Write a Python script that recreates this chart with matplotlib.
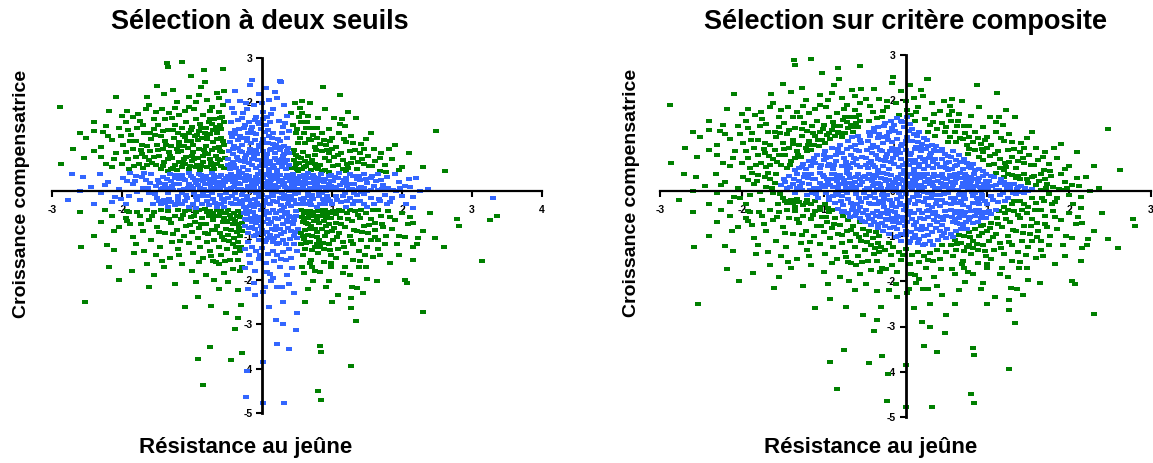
import numpy as np
import matplotlib
matplotlib.use("Agg")
import matplotlib.pyplot as plt

plt.rcParams['font.family'] = ['Liberation Sans', 'DejaVu Sans']
plt.rcParams['font.weight'] = 'bold'
plt.rcParams['axes.unicode_minus'] = False

# points (résistance au jeûne, croissance compensatrice), lus sur l'image
# bleu dans les deux graphiques
pts_bb = [
    (-0.46,0.5),(-0.4,0.58),(-0.33,0.46),(-0.27,0.55),(-0.2,0.48),(-0.14,0.6),(-0.08,0.52),(-0.02,0.45),(0.04,0.57),(0.1,0.49),(0.16,0.6),(0.22,0.47),(0.28,0.55),(0.34,0.5),(0.38,0.6),
    (-0.48,0.72),(-0.42,0.65),(-0.36,0.78),(-0.3,0.68),(-0.24,0.75),(-0.18,0.64),(-0.12,0.8),(-0.06,0.7),(0.0,0.62),(0.06,0.78),(0.12,0.68),(0.18,0.75),(0.24,0.63),(0.3,0.8),(0.36,0.7),
    (-0.47,0.9),(-0.41,0.84),(-0.35,0.97),(-0.29,0.88),(-0.23,0.82),(-0.17,0.95),(-0.11,0.86),(-0.05,0.99),(0.01,0.9),(0.07,0.83),(0.13,0.96),(0.19,0.87),(0.25,0.92),(0.31,0.84),(0.37,0.98),
    (-0.46,1.1),(-0.4,1.02),(-0.34,1.16),(-0.28,1.05),(-0.22,1.2),(-0.16,1.08),(-0.1,1.15),(-0.04,1.03),(0.02,1.18),(0.08,1.09),(0.14,1.2),(0.2,1.04),(0.26,1.12),(0.32,1.01),
    (-0.45,1.3),(-0.38,1.38),(-0.32,1.25),(-0.26,1.42),(-0.2,1.3),(-0.14,1.45),(-0.08,1.28),(-0.02,1.4),(0.04,1.33),(0.1,1.25),(0.16,1.3),(-0.43,1.22),
    (-0.18,1.55),(-0.1,1.6),(-0.04,1.52),(0.02,1.62),(0.06,1.48),(-0.25,1.5),
    (-0.44,0.62),(-0.37,0.53),(-0.31,0.91),(-0.25,0.66),(-0.21,1.13),(-0.15,0.73),(-0.09,0.93),(-0.03,0.57),(0.03,0.81),(0.09,0.61),(0.15,1.07),(0.21,0.71),(0.27,0.99),(0.33,0.63),(0.38,0.87),
    (-0.42,0.94),(-0.34,0.71),(-0.27,1.19),(-0.19,0.87),(-0.13,1.31),(-0.07,0.83),(0.0,1.09),(0.05,0.67),(0.11,0.93),(0.17,0.52),(0.23,1.17),(0.29,0.73),(0.35,0.91),(-0.48,0.58),(-0.39,1.29),(-0.33,1.41),(-0.06,1.55),(0.08,1.37),(-0.16,1.38),(0.19,0.97),
    (-1.52,0.12),(-1.48,0.25),(-1.45,0.05),(-1.42,0.32),(-1.38,0.15),(-1.35,-0.05),(-1.32,0.38),(-1.3,0.22),(-1.27,0.02),(-1.24,0.3),(-1.2,-0.1),(-1.18,0.15),(-1.15,0.36),(-1.12,0.05),(-1.1,0.25),(-1.07,-0.15),(-1.05,0.4),(-1.02,0.12),
    (-1.47,0.19),(-1.41,0.08),(-1.36,0.27),(-1.29,0.11),(-1.23,0.37),(-1.17,0.02),(-1.13,0.27),(-1.09,-0.08),(-1.04,0.17),(-1.01,0.35),(-1.33,0.06),(-1.26,0.17),(-1.19,0.28),(-1.14,-0.05),(-1.06,0.07),
    (-0.99,0.3),(-0.97,-0.05),(-0.95,0.18),(-0.93,-0.2),(-0.9,0.38),(-0.88,0.08),(-0.86,-0.28),(-0.84,0.22),(-0.82,-0.1),(-0.8,0.34),(-0.78,0.0),(-0.76,-0.32),(-0.74,0.16),(-0.72,0.4),(-0.7,-0.18),(-0.68,0.28),(-0.66,0.06),(-0.64,-0.36),(-0.62,0.2),(-0.6,-0.08),(-0.58,0.36),(-0.56,0.12),(-0.54,-0.25),(-0.52,0.3),(-0.5,0.02),
    (-0.98,0.08),(-0.94,-0.13),(-0.91,0.26),(-0.87,0.37),(-0.85,-0.03),(-0.81,0.15),(-0.79,-0.22),(-0.75,0.23),(-0.73,0.07),(-0.69,0.36),(-0.67,-0.27),(-0.63,0.09),(-0.61,0.31),(-0.57,-0.17),(-0.55,0.25),(-0.51,-0.05),
    (-0.92,0.13),(-0.84,0.3),(-0.77,-0.12),(-0.68,0.18),(-0.6,0.04),(-0.55,-0.35),(-0.96,0.26),(-0.89,-0.12),(-0.83,0.05),(-0.77,0.28),(-0.71,-0.05),(-0.65,0.15),(-0.59,-0.3),(-0.53,0.2),
    (-0.48,-0.15),(-0.46,0.25),(-0.44,0.38),(-0.42,-0.3),(-0.4,0.1),(-0.38,-0.05),(-0.36,0.32),(-0.34,0.18),(-0.32,-0.22),(-0.3,0.05),(-0.28,0.4),(-0.26,-0.35),(-0.24,0.22),(-0.22,-0.1),(-0.2,0.12),(-0.18,0.35),(-0.16,-0.28),(-0.14,0.0),(-0.12,0.26),(-0.1,-0.18),(-0.08,0.15),(-0.06,0.38),(-0.04,-0.32),(-0.02,0.08),(0.0,-0.08),(0.02,0.3),(0.04,-0.2),(0.06,0.18),(0.08,0.02),(0.1,0.4),(0.12,-0.3),(0.14,0.1),(0.16,-0.12),(0.18,0.28),(0.2,0.0),(0.22,-0.25),(0.24,0.2),(0.26,0.36),(0.28,-0.05),(0.3,0.14),(0.32,-0.35),(0.34,0.3),(0.36,0.04),(0.38,-0.2),(0.4,0.22),(0.42,-0.1),(0.44,0.38),(0.46,0.08),(0.48,-0.28),(0.5,0.16),
    (-0.47,0.05),(-0.43,-0.12),(-0.39,0.28),(-0.35,-0.3),(-0.31,0.15),(-0.27,0.0),(-0.23,0.36),(-0.19,-0.2),(-0.15,0.2),(-0.11,0.06),(-0.07,-0.26),(-0.03,0.24),(0.01,0.16),(0.05,0.36),(0.09,-0.14),(0.13,0.25),(0.17,0.05),(0.21,0.38),(0.25,-0.15),(0.29,0.26),(0.33,0.1),(0.37,-0.3),(0.41,0.32),(0.45,-0.2),(0.49,0.25),
    (-0.44,0.07),(-0.41,0.21),(-0.37,-0.17),(-0.33,0.39),(-0.29,-0.09),(-0.25,0.27),(-0.21,0.03),(-0.17,-0.33),(-0.13,0.17),(-0.09,0.31),(-0.05,-0.13),(-0.01,0.21),(0.03,-0.27),(0.07,0.09),(0.11,0.33),(0.15,-0.23),(0.19,0.13),(0.23,-0.03),(0.27,0.23),(0.31,-0.17),(0.35,0.37),(0.39,0.01),(0.43,0.17),(0.47,-0.07),
    (-0.45,-0.27),(-0.4,0.34),(-0.35,0.04),(-0.3,0.29),(-0.26,-0.19),(-0.2,0.24),(-0.16,0.08),(-0.11,-0.36),(-0.07,0.27),(-0.03,0.0),(0.01,-0.34),(0.04,0.13),(0.09,0.23),(0.14,-0.05),(0.18,0.36),(0.23,0.09),(0.27,-0.32),(0.32,0.19),(0.36,-0.1),(0.41,0.06),(0.46,0.29),
    (-0.49,0.33),(-0.38,0.15),(-0.28,-0.26),(-0.18,0.02),(-0.08,-0.05),(0.02,0.38),(0.12,0.17),(0.22,0.31),(0.32,-0.08),(0.42,-0.33),
    (0.52,-0.05),(0.54,0.34),(0.56,-0.3),(0.58,0.12),(0.6,-0.15),(0.62,0.26),(0.64,0.02),(0.66,0.4),(0.68,-0.22),(0.7,0.18),(0.72,-0.08),(0.74,0.32),(0.76,0.06),(0.78,-0.35),(0.8,0.22),(0.82,-0.12),(0.84,0.38),(0.86,0.1),(0.88,-0.25),(0.9,0.28),(0.92,0.0),(0.94,-0.18),(0.96,0.16),(0.98,0.36),(1.0,-0.3),
    (0.55,0.2),(0.65,-0.1),(0.75,0.1),(0.85,-0.05),(0.95,0.05),(0.6,0.36),(0.7,-0.32),(0.8,0.3),
    (0.53,0.05),(0.59,-0.22),(0.63,0.32),(0.69,0.08),(0.73,-0.18),(0.79,0.14),(0.83,-0.28),(0.89,0.2),(0.93,-0.1),(0.99,0.12),
    (0.51,0.27),(0.55,-0.17),(0.57,0.03),(0.61,0.17),(0.63,-0.28),(0.67,0.29),(0.71,-0.13),(0.73,0.37),(0.77,0.19),(0.81,-0.02),(0.83,0.27),(0.87,-0.17),(0.91,0.09),(0.95,0.33),(0.97,-0.23),
    (0.58,0.31),(0.66,-0.04),(0.74,0.24),(0.82,0.07),(0.9,-0.3),(0.98,0.22),
    (1.02,0.22),(1.05,-0.12),(1.08,0.3),(1.1,0.02),(1.13,-0.25),(1.16,0.18),(1.19,-0.05),(1.22,0.12),(1.25,-0.15),(1.28,0.05),(1.32,0.15),(1.35,-0.08),(1.38,0.08),(1.42,-0.02),(1.46,0.06),(1.5,0.0),(1.55,0.03),
    (1.01,0.05),(1.04,0.32),(1.07,-0.2),(1.11,0.13),(1.15,-0.1),(1.17,0.26),(1.21,-0.22),(1.24,0.04),(1.27,0.16),(1.31,-0.05),(1.36,0.03),(1.41,0.1),(1.45,-0.06),(1.06,0.1),(1.14,0.02),(1.2,0.2),
    (-0.26,-0.5),(-0.22,-0.65),(-0.18,-0.45),(-0.14,-0.8),(-0.1,-0.55),(-0.06,-0.95),(-0.02,-0.42),(0.02,-0.7),(0.06,-1.1),(0.1,-0.5),(0.14,-0.85),(0.18,-0.6),(0.22,-1.0),(0.26,-0.45),(0.3,-0.75),(0.34,-1.2),(0.38,-0.55),(0.42,-0.9),(0.46,-0.65),(0.5,-1.05),
    (-0.25,-0.78),(-0.2,-0.95),(-0.16,-0.6),(-0.12,-1.02),(-0.08,-0.72),(-0.04,-0.58),(0.0,-0.88),(0.04,-1.15),(0.08,-0.62),(0.12,-0.98),(0.16,-0.42),(0.2,-0.78),(0.24,-1.18),(0.28,-0.58),(0.32,-0.92),(0.36,-0.48),(0.4,-1.08),(0.44,-0.75),(0.48,-0.45),(0.51,-0.85),
    (-0.23,-0.42),(-0.15,-0.7),(-0.05,-1.1),(0.05,-0.45),(0.15,-1.15),(0.25,-0.85),(0.35,-0.65),(0.45,-1.0),(-0.1,-0.85),(0.1,-0.75),(0.3,-1.1),(0.2,-0.5),
    (-0.24,-0.62),(-0.19,-0.83),(-0.13,-0.47),(-0.09,-0.99),(-0.03,-0.67),(0.03,-0.53),(0.07,-0.91),(0.13,-0.69),(0.17,-1.06),(0.23,-0.63),(0.27,-0.97),(0.33,-0.52),(0.37,-0.82),(0.43,-0.58),(0.47,-0.93),
    (-0.21,-0.51),(-0.11,-0.63),(-0.01,-0.79),(0.09,-1.05),(0.19,-0.87),(0.29,-0.43),(0.39,-0.69),(0.49,-0.55),(0.01,-0.97),(0.21,-1.2),
]

# bleu à gauche (deux seuils), vert à droite (critère composite)
pts_bg = [
    (0.26,2.48),(-0.15,2.51),(0.27,2.47),(-0.17,2.39),(0.19,2.23),(0.21,2.09),(-0.23,1.98),(0.0,1.98),(-0.22,1.85),(0.02,1.79),(0.07,1.67),(-0.08,1.68),(-0.29,1.64),(-0.48,2.03),(-0.32,2.03),
    (0.24,1.58),(0.39,1.36),(0.3,1.45),(0.35,1.7),(0.15,1.85),(-0.4,1.75),(-0.45,1.55),(0.12,1.55),(-0.35,1.6),(0.28,1.3),(0.36,1.2),(-0.05,2.2),(0.1,2.05),(-0.38,2.25),(0.32,1.95),
    (-0.27,1.77),(0.13,1.73),(-0.12,1.93),(0.05,2.33),(0.33,1.53),(-0.43,1.87),
    (-0.24,-1.73),(-0.12,-2.07),(-0.1,-2.34),(0.02,-2.27),(0.04,-2.17),(0.21,-2.17),(0.28,-2.17),(0.12,-1.87),(0.16,-1.96),(0.3,-2.5),(0.2,-2.9),(0.3,-3.0),(0.22,-3.44),(0.39,-3.56),(0.01,-3.85),(-0.21,-4.06),(-0.23,-4.64),(0.01,-4.77),(0.32,-4.77),(-0.18,-1.43),(-0.05,-1.53),(0.17,-1.58),(0.34,-1.55),(0.5,-2.75),(0.48,-3.14),
    (-0.2,-1.15),(-0.15,-1.25),(-0.08,-1.35),(0.0,-1.28),(0.08,-1.42),(0.15,-1.35),(0.22,-1.45),(0.3,-1.38),(0.38,-1.3),(0.45,-1.2),(0.5,-1.35),(-0.25,-1.3),(0.05,-1.62),(0.25,-1.7),(0.42,-1.5),(-0.1,-1.8),(0.35,-1.9),(-0.2,-2.2),(0.45,-2.3),(0.1,-2.6),
    (-0.17,-1.63),(0.07,-1.83),(0.27,-1.53),(0.43,-1.73),(-0.03,-1.43),(0.13,-2.03),(0.38,-2.1),
    (-2.77,-0.2),(-2.71,0.38),(-2.56,0.31),(-2.31,0.38),(-2.1,-0.14),(-2.45,0.1),(-2.2,0.2),(-2.05,0.05),(-1.98,0.3),(-1.9,-0.1),(-1.85,0.15),(-1.8,0.35),(-1.75,-0.2),(-1.7,0.08),(-1.66,0.25),(-1.62,-0.05),(-1.58,0.38),(-1.56,-0.3),(-1.5,-0.15),(-1.45,-0.28),(-1.4,-0.2),(-1.35,-0.35),(-1.3,-0.25),(-1.25,-0.32),(-1.2,-0.2),(-1.15,-0.3),(-1.1,-0.22),(-1.05,-0.36),(-0.98,-0.3),(-0.95,-0.38),(-1.68,0.4),(-2.3,-0.05),(-2.6,0.0),(-1.95,-0.3),(-2.15,-0.25),(-1.6,0.18),(-1.88,0.4),(-2.4,-0.3),
    (-1.93,0.23),(-1.78,-0.03),(-1.72,0.31),(-1.63,0.07),(-1.53,-0.07),(-1.47,-0.22),(-1.38,-0.27),(-1.22,-0.28),(-1.33,-0.18),(-2.02,-0.17),(-2.25,0.13),(-1.82,0.22),
    (1.9,0.38),(2.04,0.12),(2.37,0.05),(2.26,0.0),(2.15,-0.14),(2.15,-0.38),(3.3,-0.16),(1.69,-0.23),(1.83,-0.25),(1.73,0.14),(1.87,0.03),(1.92,0.01),
    (1.1,0.4),(1.2,0.3),(1.3,0.35),(1.4,0.25),(1.45,0.38),(1.5,0.18),(1.55,0.3),(1.6,0.12),(1.65,0.38),(1.7,0.25),(1.78,0.32),(1.8,0.08),(1.95,0.2),(2.0,-0.1),(2.1,0.28),(1.3,-0.3),(1.4,-0.22),(1.5,-0.35),(1.55,-0.15),(1.6,-0.28),(1.75,-0.08),(1.2,-0.36),(1.65,0.02),(2.2,0.3),(2.05,-0.3),(1.35,0.28),(1.25,0.38),
    (1.63,0.22),(1.72,0.05),(1.85,-0.15),(1.57,0.33),(1.48,0.27),(1.38,0.33),(1.33,-0.22),(1.45,-0.3),(1.67,-0.17),(1.97,0.07),(2.12,0.1),(1.79,-0.3),
]

# vert à gauche, bleu à droite
pts_gb = [
    (-1.35,0.46),(-1.3,0.5),(-1.25,0.6),(-1.22,0.48),(-1.18,0.66),(-1.15,0.55),(-1.1,0.62),(-1.08,0.78),(-1.05,0.5),(-1.0,0.68),(-0.98,0.88),(-0.95,0.55),(-0.92,0.75),(-0.9,0.95),(-0.88,0.48),(-0.85,0.65),(-0.82,0.85),(-0.8,1.02),(-0.78,0.55),(-0.75,0.72),(-0.72,0.92),(-0.7,1.1),(-0.68,0.5),(-0.66,0.8),(-0.64,0.62),(-0.62,1.0),(-0.6,0.7),(-0.58,1.2),(-0.57,0.88),(-0.55,0.52),(-0.54,1.05),(-0.53,0.75),(-1.12,0.72),(-0.93,0.6),(-0.7,0.58),(-0.6,0.9),(-0.85,0.8),(-1.0,0.8),(-0.65,1.18),
    (-1.27,0.53),(-1.13,0.63),(-1.03,0.57),(-0.97,0.73),(-0.87,0.57),(-0.83,0.93),(-0.77,0.83),(-0.73,0.63),(-0.67,0.97),(-0.63,0.73),(-0.59,0.57),(-0.56,1.13),(-0.71,0.47),
    (0.83,0.59),(0.66,0.63),(0.49,0.61),(0.45,0.93),(0.5,0.5),(0.55,0.75),(0.6,0.55),(0.65,0.8),(0.7,0.48),(0.75,0.62),(0.8,0.5),(0.45,0.7),(0.58,0.88),(0.52,0.45),(0.9,0.48),(0.42,0.52),(0.62,0.68),(0.48,0.82),(0.72,0.7),(0.85,0.45),(0.95,0.44),
    (0.47,0.53),(0.53,0.63),(0.57,0.49),(0.63,0.57),(0.69,0.63),(0.77,0.53),(0.44,0.87),(0.52,0.77),
    (-0.82,-0.41),(-0.75,-0.44),(-0.7,-0.5),(-0.65,-0.42),(-0.62,-0.55),(-0.58,-0.45),(-0.55,-0.6),(-0.52,-0.5),(-0.5,-0.7),(-0.48,-0.42),(-0.45,-0.62),(-0.42,-0.75),(-0.4,-0.5),(-0.38,-0.68),(-0.35,-0.45),(-0.33,-0.82),(-0.31,-0.58),(-0.29,-0.72),(-0.28,-0.9),(-0.36,-0.55),
    (-0.78,-0.47),(-0.68,-0.57),(-0.6,-0.49),(-0.53,-0.67),(-0.46,-0.53),(-0.41,-0.63),(-0.34,-0.73),(-0.3,-0.49),
    (0.55,-0.42),(0.58,-0.7),(0.6,-0.5),(0.62,-0.88),(0.65,-0.6),(0.68,-0.45),(0.7,-0.78),(0.72,-0.55),(0.75,-0.85),(0.78,-0.65),(0.8,-0.45),(0.82,-0.72),(0.85,-0.55),(0.88,-0.68),(0.9,-0.42),(0.92,-0.6),(0.95,-0.48),(0.98,-0.6),(1.02,-0.45),(1.05,-0.52),(1.1,-0.42),(0.55,-0.95),(0.58,-1.02),(0.63,-0.72),(0.68,-0.85),(0.74,-0.68),(0.86,-0.42),(0.57,-0.58),
    (0.6,-0.63),(0.66,-0.73),(0.73,-0.47),(0.79,-0.57),(0.87,-0.49),(0.93,-0.53),(1.0,-0.5),(0.61,-0.44),(0.67,-0.53),
]

# vert dans les deux graphiques
pts_gg = [
    (-2.88,1.89),(-1.36,2.88),(-1.35,2.79),(-1.15,2.92),(-0.83,2.72),(-0.56,2.75),(-0.81,2.47),(-1.02,2.6),
    (-1.5,2.36),(-1.27,2.27),(-1.4,2.19),(-0.87,2.34),(-0.65,2.22),(-0.54,2.25),(-0.9,2.16),(-0.62,2.09),(-2.09,2.13),(-1.64,2.13),(-1.22,2.0),(-0.78,2.05),(-1.05,2.12),
    (-1.1,1.81),(-0.75,1.81),(-2.18,1.81),(-1.93,1.81),(-1.43,1.85),(-2.4,1.55),(-1.84,1.68),(-1.55,1.62),(-1.38,1.62),(-1.29,1.64),(-0.97,1.85),(-0.74,1.62),(-0.6,1.64),(-1.66,1.85),(-1.33,1.75),(-1.18,1.72),(-1.05,1.9),(-0.95,2.0),(-0.84,1.72),(-0.72,1.9),(-0.56,1.95),(-0.62,1.78),(-0.68,1.62),(-1.08,1.55),(-0.94,1.62),(-0.76,1.56),(-1.95,1.55),(-1.75,1.58),(-1.52,1.78),(-1.25,1.88),(-0.88,1.52),(-0.55,1.55),(-1.62,1.95),(-2.0,1.7),
    (-2.51,1.19),(-2.23,1.46),(-2.05,1.43),(-1.87,1.27),(-1.7,1.48),(-1.78,1.42),(-1.48,1.5),(-1.55,1.4),(-1.35,1.38),(-1.24,1.5),(-1.2,1.32),(-1.14,1.42),(-1.0,1.45),(-0.9,1.35),(-0.8,1.42),(-0.7,1.38),(-0.66,1.45),(-0.6,1.5),(-0.58,1.4),(-2.3,1.0),(-2.02,1.25),(-2.6,1.3),(-1.98,1.05),(-1.8,1.12),(-1.68,1.3),(-1.65,1.02),(-1.58,1.18),(-1.5,1.05),(-1.45,1.25),(-1.38,1.12),(-1.3,1.02),(-1.26,1.2),(-1.18,1.1),(-1.12,1.02),(-1.1,1.22),(-1.04,1.3),(-1.02,1.12),(-0.96,1.24),(-0.92,1.15),(-0.86,1.2),(-0.82,1.3),(-0.78,1.18),(-0.74,1.28),(-0.64,1.3),(-2.15,1.15),(-1.92,1.38),(-1.72,1.05),(-1.42,1.35),(-0.98,1.05),(-2.4,1.35),(-2.2,1.25),(-1.6,1.3),
    (-2.55,0.74),(-2.87,0.61),(-2.23,0.61),(-2.08,0.87),(-1.92,0.72),(-1.85,0.95),(-1.76,0.62),(-1.72,0.83),(-1.62,0.7),(-1.6,0.9),(-1.52,0.58),(-1.47,0.8),(-1.42,0.95),(-1.4,0.66),(-1.33,0.88),(-1.28,0.74),(-1.22,0.95),(-1.16,0.9),(-1.06,0.98),(-2.4,0.9),(-2.15,0.55),(-1.9,0.5),(-1.7,0.52),(-1.45,0.5),(-2.3,0.78),(-2.0,0.62),(-1.8,0.78),(-1.55,0.78),(-1.95,0.88),(-2.7,0.95),(-1.65,0.58),(-1.35,0.72),(-1.2,0.88),
    (-1.57,0.63),(-1.49,0.93),(-1.41,0.57),(-1.37,1.03),(-1.31,0.79),(-1.27,1.37),(-1.19,1.01),(-1.13,1.27),(-1.07,1.13),(-1.01,1.37),(-0.93,1.27),(-0.87,1.43),(-0.79,1.27),(-0.71,1.51),(-0.63,1.41),(-0.57,1.67),(-1.73,0.93),(-1.83,0.57),(-1.67,0.77),(-1.53,1.27),(-1.89,1.13),(-2.11,0.73),(-2.27,1.33),(-1.77,1.73),
    (0.87,2.34),(1.12,2.17),(1.23,1.78),(1.34,1.64),(1.03,1.64),(1.14,1.62),(1.11,1.51),(1.19,1.46),(0.47,1.98),(0.54,1.88),(0.57,2.03),(0.69,1.98),(0.42,1.76),(0.57,1.76),(0.64,1.55),(0.78,1.43),(0.71,1.43),(2.48,1.36),(2.62,0.45),(1.9,1.03),(1.82,0.95),(1.7,0.86),(1.68,0.74),(1.57,0.57),(1.77,0.44),(1.69,0.46),(1.49,1.17),(1.41,1.06),(1.27,1.25),(1.3,1.08),(1.4,0.86),(1.51,0.8),(1.37,0.65),(1.21,0.61),(1.09,0.82),(1.0,1.19),(0.92,1.04),(0.88,1.16),(0.78,1.19),(0.54,1.19),(0.95,0.68),(1.02,0.56),(1.2,0.46),
    (0.5,1.4),(0.6,1.3),(0.75,1.0),(0.85,0.9),(0.95,0.85),(1.05,1.0),(1.15,0.7),(1.25,0.9),(1.35,0.5),(1.45,0.62),(1.6,0.95),(1.55,1.3),(1.75,0.6),(1.85,0.72),(2.0,0.55),(2.1,0.85),(0.65,1.7),(0.8,1.65),(0.95,1.4),(1.1,1.3),(0.7,1.15),(0.85,1.3),(1.0,0.95),(1.2,1.1),(1.3,0.75),(1.15,0.5),(0.48,1.3),(0.55,1.55),(0.9,1.85),(1.45,0.95),(0.62,1.08),(0.9,0.75),(1.08,0.6),(0.76,0.82),(2.3,0.55),(1.95,0.47),(1.62,0.68),(0.44,1.5),(0.52,1.08),
    (0.53,1.67),(0.63,1.43),(0.73,1.27),(0.83,1.07),(0.93,0.93),(1.03,0.77),(1.13,0.87),(1.23,0.53),(1.33,0.93),(1.43,0.73),(1.53,0.57),(0.97,1.13),(1.17,1.17),(0.67,1.17),(0.77,0.93),(1.27,0.63),
    (-2.6,-0.46),(-2.25,-0.42),(-2.12,-0.89),(-2.05,-0.8),(-2.58,-1.25),(-2.21,-1.21),(-2.11,-1.33),(-1.85,-1.04),(-1.83,-1.4),(-1.79,-0.46),(-1.93,-0.44),(-2.53,-2.5),(-2.18,-1.72),(-2.04,-2.0),(-1.86,-1.81),(-1.65,-1.64),(-1.61,-2.15),(-1.43,-1.58),(-1.18,-1.45),(-0.92,-2.39),(-0.73,-2.58),(-0.69,-2.0),(-0.7,-1.58),(-0.61,-1.64),(-0.35,-2.22),(-0.3,-2.57),(-0.35,-2.86),(-0.29,-3.65),(-0.75,-3.52),(-0.92,-3.78),(-0.45,-3.8),(-0.84,-4.38),(-0.31,-1.79),(-0.35,-1.55),(-0.32,-1.36),
    (-1.95,-0.6),(-1.88,-0.75),(-1.75,-0.55),(-1.7,-0.9),(-1.62,-0.65),(-1.58,-1.1),(-1.55,-0.48),(-1.5,-0.8),(-1.46,-1.25),(-1.42,-0.6),(-1.38,-0.95),(-1.35,-0.45),(-1.3,-0.72),(-1.28,-1.15),(-1.25,-0.55),(-1.22,-0.88),(-1.2,-1.3),(-1.16,-0.62),(-1.12,-1.0),(-1.1,-0.45),(-1.08,-0.78),(-1.05,-1.18),(-1.02,-0.58),(-1.0,-0.92),(-0.98,-1.4),(-0.96,-0.7),(-0.94,-0.48),(-0.92,-1.05),(-0.9,-0.82),(-0.88,-1.25),(-0.86,-0.6),(-0.84,-1.5),(-0.82,-0.95),(-0.8,-0.75),(-0.78,-1.15),(-0.76,-0.55),(-0.74,-1.35),(-0.72,-0.88),(-0.7,-0.65),(-0.68,-1.1),(-0.66,-1.6),(-0.64,-0.78),(-0.62,-1.25),(-0.6,-0.95),(-0.58,-1.45),(-0.56,-0.7),(-0.54,-1.1),(-0.52,-0.85),(-0.5,-1.3),(-0.48,-0.98),(-0.46,-1.55),(-0.44,-0.88),(-0.42,-1.2),(-0.4,-1.05),(-0.38,-1.4),(-0.36,-0.92),(-0.34,-1.15),(-0.32,-1.0),(-0.3,-1.25),(-0.29,-1.7),
    (-1.8,-1.2),(-1.68,-1.35),(-1.52,-1.45),(-1.4,-1.7),(-1.32,-1.5),(-1.15,-1.65),(-1.0,-1.8),(-0.9,-1.6),(-0.8,-1.9),(-0.62,-2.2),(-0.55,-1.85),(-0.48,-2.05),(-0.42,-1.75),(-1.25,-2.1),(-1.55,-1.9),(-0.95,-2.05),(-2.3,-0.7),(-2.4,-1.0),(-1.9,-0.48),(-1.65,-0.42),(-1.45,-0.42),(-1.2,-0.42),(-1.05,-0.43),(-0.9,-0.42),(-2.15,-0.55),(-0.52,-2.75),(-0.38,-3.1),(-1.1,-2.6),
    (-1.93,-0.67),(-1.73,-0.73),(-1.57,-0.57),(-1.47,-0.93),(-1.33,-0.63),(-1.27,-0.97),(-1.13,-0.53),(-1.03,-0.77),(-0.97,-0.57),(-0.87,-0.73),(-0.77,-0.97),(-0.67,-0.87),(-0.57,-1.03),(-0.47,-1.13),(-0.37,-1.27),(-1.17,-1.13),(-0.73,-1.47),(-0.53,-1.57),
    (0.61,-2.5),(0.95,-2.03),(0.92,-2.17),(1.09,-2.34),(1.29,-2.15),(1.36,-2.18),(1.44,-2.3),(1.27,-2.41),(1.27,-2.64),(1.5,-1.97),(1.64,-2.03),(2.04,-2.0),(2.07,-2.06),(2.3,-2.73),(1.34,-2.92),(0.83,-3.48),(0.84,-3.63),(1.27,-3.95),(0.8,-4.5),(0.84,-4.7),(0.73,-2.02),(3.14,-1.57),(2.78,-0.63),(2.81,-0.78),(3.25,-0.65),(3.35,-0.57),(2.47,-1.06),(2.6,-1.26),(2.23,-1.06),(2.22,-1.19),(2.16,-1.26),(2.04,-1.04),(1.96,-1.0),(1.93,-1.19),(1.83,-1.61),(1.77,-1.01),(1.73,-0.81),(1.68,-1.45),(1.59,-1.49),(2.08,-0.74),(2.16,-0.72),(2.11,-0.59),(1.83,-0.59),(1.61,-0.71),(1.65,-1.11),(1.39,-1.7),(1.18,-1.7),(0.99,-1.7),(0.83,-1.83),(0.76,-1.79),(0.57,-1.72),(0.69,-1.61),(0.99,-1.61),(1.4,-1.58),
    (0.55,-1.2),(0.58,-1.45),(0.6,-1.08),(0.62,-1.3),(0.65,-0.98),(0.68,-1.15),(0.7,-1.55),(0.72,-1.0),(0.75,-1.25),(0.78,-0.92),(0.8,-1.4),(0.82,-1.1),(0.85,-0.85),(0.88,-1.3),(0.9,-1.0),(0.92,-0.78),(0.95,-1.2),(0.98,-1.45),(1.0,-0.9),(1.02,-1.1),(1.05,-0.72),(1.08,-1.3),(1.1,-0.95),(1.12,-0.6),(1.15,-1.15),(1.18,-0.8),(1.2,-1.4),(1.22,-0.5),(1.25,-1.0),(1.28,-0.68),(1.3,-1.2),(1.33,-0.45),(1.35,-0.9),(1.38,-1.35),(1.4,-0.6),(1.42,-1.1),(1.45,-0.78),(1.48,-0.5),(1.5,-1.25),(1.52,-0.95),(1.55,-0.62),(1.58,-0.42),(1.62,-0.88),(1.66,-1.3),(1.7,-0.55),(1.75,-1.2),(1.8,-0.45),(1.85,-0.85),(1.9,-0.65),(2.0,-0.5),
    (0.6,-1.85),(0.72,-1.7),(0.88,-1.6),(1.05,-1.5),(1.15,-1.85),(1.3,-1.55),(1.48,-1.7),(1.25,-1.9),(1.55,-1.1),(0.65,-2.2),(1.0,-2.5),(0.78,-1.2),(0.95,-0.75),(1.25,-0.42),(1.42,-0.42),(1.65,-0.42),(2.3,-0.9),(2.4,-0.5),(1.95,-1.45),(2.15,-1.55),(1.14,-0.45),
    (0.63,-1.17),(0.71,-1.33),(0.79,-1.03),(0.87,-1.17),(0.93,-0.93),(1.03,-0.83),(1.13,-0.73),(1.23,-0.63),(1.31,-0.87),(1.37,-0.53),(1.43,-0.93),(1.53,-0.77),(1.61,-1.03),(1.71,-0.73),(1.47,-1.43),(1.17,-1.27),(0.97,-1.33),(0.83,-1.27),(1.07,-1.03),(1.27,-1.13),
]

titres = ["Sélection à deux seuils", "Sélection sur critère composite"]
label_x = "Résistance au jeûne"
label_y = "Croissance compensatrice"
ticks_x_gauche = [-3, -2, -1, 0, 1, 2, 3, 4]
ticks_x_droite = [-3, -2, -1, 0, 1, 2, 3]
ticks_y = [-5, -4, -3, -2, -1, 0, 1, 2, 3]

VERT = "#008000"
BLEU = "#3366ff"
W, H = 1153, 463

# marqueur rectangulaire (comme Excel)
rect = [(-1, -0.65), (1, -0.65), (1, 0.65), (-1, 0.65), (-1, -0.65)]


def panneau(ax, bleu, vert, ticks_x):
    v = np.array(vert)
    b = np.array(bleu)
    ax.plot(v[:, 0], v[:, 1], ls='none', marker=rect, ms=3.7, mew=0, color=VERT)
    ax.plot(b[:, 0], b[:, 1], ls='none', marker=rect, ms=3.7, mew=0, color=BLEU)
    ax.set_xlim(ticks_x[0], ticks_x[-1])
    ax.set_ylim(-5, 3)
    ax.spines['top'].set_visible(False)
    ax.spines['right'].set_visible(False)
    ax.spines['left'].set_position(('data', 0))
    ax.spines['bottom'].set_position(('data', 0))
    ax.spines['left'].set_linewidth(2)
    ax.spines['bottom'].set_linewidth(1.6)
    ax.set_xticks(ticks_x)
    ax.set_yticks(ticks_y)
    ax.tick_params(direction='out', length=4, width=1.5, labelsize=7.5, pad=3)
    ax.tick_params(axis='x', pad=6)
    ax.patch.set_visible(False)


fig = plt.figure(figsize=(W / 100, H / 100), dpi=100)

ax1 = fig.add_axes([52 / W, 1 - 413 / H, 490 / W, 355 / H])
panneau(ax1, pts_bb + pts_bg, pts_gb + pts_gg, ticks_x_gauche)

ax2 = fig.add_axes([660 / W, 1 - 417 / H, 491 / W, 362 / H])
panneau(ax2, pts_bb + pts_gb, pts_bg + pts_gg, ticks_x_droite)

# titres et étiquettes des axes
fig.text(260 / W, 1 - 22 / H, titres[0], ha='center', va='center', fontsize=19.5)
fig.text(905 / W, 1 - 22 / H, titres[1], ha='center', va='center', fontsize=19.5)
fig.text(22 / W, 1 - 194 / H, label_y, rotation=90, ha='center', va='center', fontsize=14)
fig.text(632 / W, 1 - 193 / H, label_y, rotation=90, ha='center', va='center', fontsize=14)
fig.text(246 / W, 1 - 447 / H, label_x, ha='center', va='center', fontsize=16)
fig.text(871 / W, 1 - 447 / H, label_x, ha='center', va='center', fontsize=16)

fig.savefig("out.png", dpi=100)
